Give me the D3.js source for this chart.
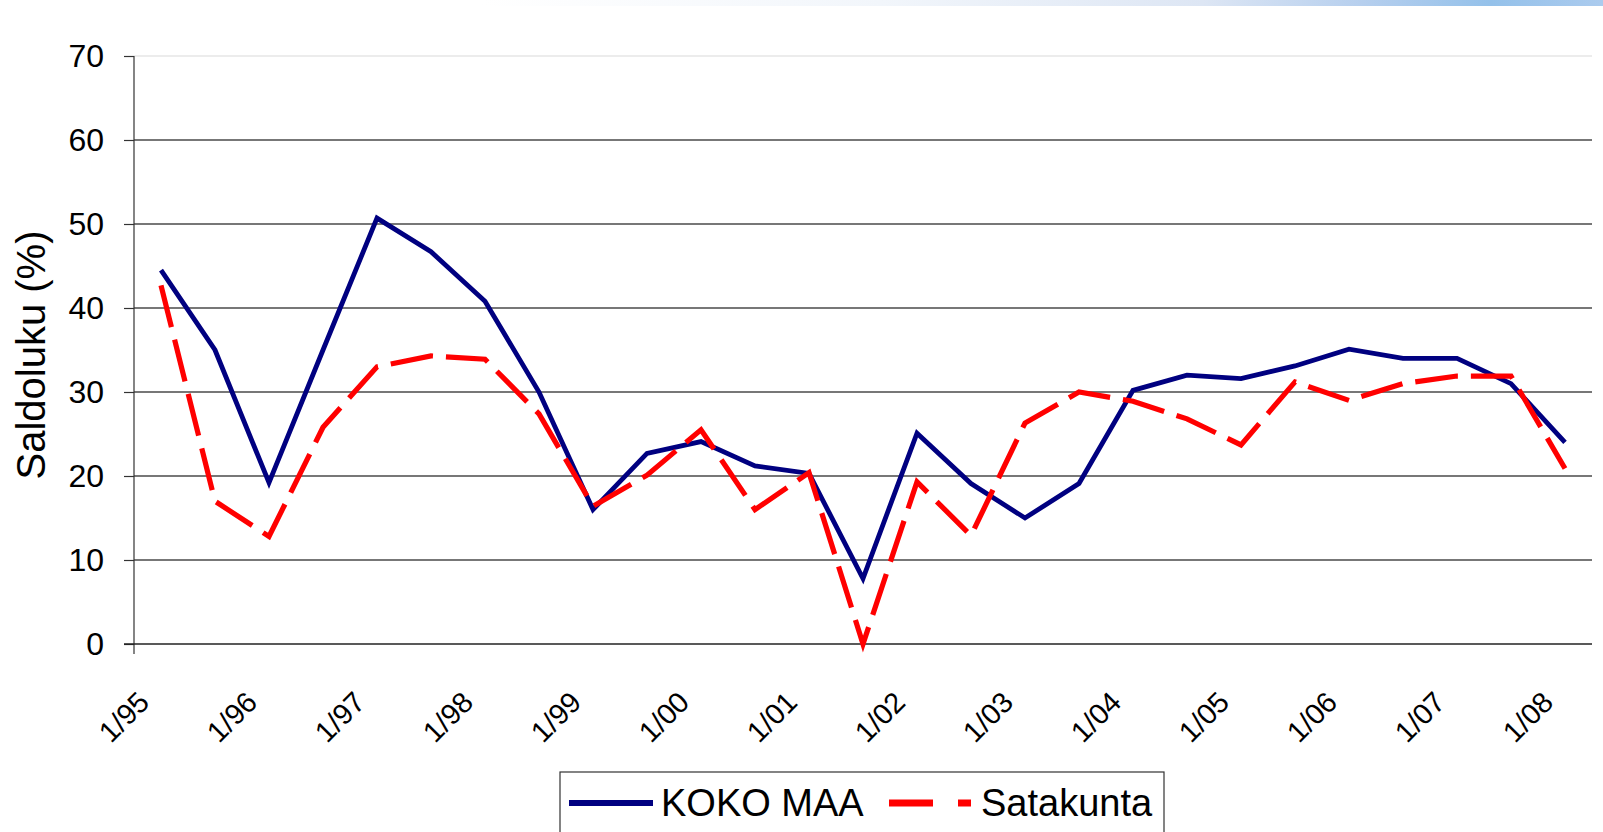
<!DOCTYPE html>
<html>
<head>
<meta charset="utf-8">
<script src="https://cdn.jsdelivr.net/npm/d3@7"></script>
<style>
  body { margin: 0; background: #fff; }
  text { font-family: "Liberation Sans", Arial, sans-serif; fill: #000; }
</style>
</head>
<body>
<script>

// half-year survey rounds, 1/95 ... 1/08
var categories = ["1/95","2/95","1/96","2/96","1/97","2/97","1/98","2/98","1/99","2/99",
  "1/00","2/00","1/01","2/01","1/02","2/02","1/03","2/03","1/04","2/04",
  "1/05","2/05","1/06","2/06","1/07","2/07","1/08"];

var kokoMaa = [44.5, 35.0, 19.2, 35.0, 50.7, 46.7, 40.8, 30.0, 16.0, 22.7,
  24.1, 21.2, 20.3, 7.8, 25.1, 19.1, 15.0, 19.1, 30.2, 32.0,
  31.6, 33.1, 35.1, 34.0, 34.0, 31.0, 24.0];

var satakunta = [42.7, 17.0, 12.8, 25.8, 33.0, 34.3, 33.9, 27.4, 16.4, 20.1,
  25.5, 16.0, 20.4, 0.0, 19.3, 12.9, 26.3, 30.0, 28.9, 26.8,
  23.7, 31.2, 29.0, 31.0, 31.9, 31.9, 20.9];

var yTicks = [0, 10, 20, 30, 40, 50, 60, 70];
var seriesNames = ["KOKO MAA", "Satakunta"];

function main() {

  var width = 1603;
  var height = 832;
  var left = 134, right = 1592, top = 56, bottom = 644;

  var svg = d3.select("body")
    .append("svg")
    .attr('width', width)
    .attr('height', height);

  // faint blue band at the very top of the slide
  var grad = svg.append("defs").append("linearGradient")
    .attr("id", "topband")
    .attr("x1", "0").attr("x2", "1").attr("y1", "0").attr("y2", "0");
  grad.append("stop").attr("offset", "0.3").attr("stop-color", "#ffffff");
  grad.append("stop").attr("offset", "0.55").attr("stop-color", "#f2f6fb");
  grad.append("stop").attr("offset", "0.75").attr("stop-color", "#dde6f4");
  grad.append("stop").attr("offset", "0.85").attr("stop-color", "#b6cfee");
  grad.append("stop").attr("offset", "0.93").attr("stop-color", "#94c1ea");
  grad.append("stop").attr("offset", "1").attr("stop-color", "#abcbee");
  svg.append("rect")
    .attr("x", 0).attr("y", 0)
    .attr("width", width).attr("height", 6)
    .attr("fill", "url(#topband)");

  var x = d3.scalePoint()
    .domain(categories)
    .range([left, right])
    .padding(0.5);

  var y = d3.scaleLinear()
    .domain([0, 70])
    .range([bottom, top]);

  // gridlines
  svg.append("g").selectAll("line")
    .data(yTicks.filter(function (d) { return d > 0; }))
    .enter().append("line")
    .attr("x1", left).attr("x2", right)
    .attr("y1", function (d) { return y(d); })
    .attr("y2", function (d) { return y(d); })
    .attr("stroke", function (d) { return d == 70 ? "#e6e6e6" : "#4a4a4a"; })
    .attr("stroke-width", 1.4);

  // y axis
  var yAxis = svg.append("g")
    .attr("transform", "translate(" + left + ",0)")
    .call(d3.axisLeft(y).tickValues(yTicks).tickSize(10).tickPadding(20));
  yAxis.select(".domain").remove();
  yAxis.selectAll(".tick line").attr("stroke", "#333").attr("stroke-width", 1.2);
  yAxis.selectAll("text")
    .attr("font-size", 32)
    .attr("fill", "#000")
    .style("font-family", '"Liberation Sans", Arial, sans-serif');

  svg.append("line")
    .attr("x1", left).attr("x2", left)
    .attr("y1", top).attr("y2", bottom + 10)
    .attr("stroke", "#333").attr("stroke-width", 1.2);

  // x axis line
  svg.append("line")
    .attr("x1", left - 10).attr("x2", right)
    .attr("y1", bottom).attr("y2", bottom)
    .attr("stroke", "#222").attr("stroke-width", 1.4);

  // category labels, only the 1/yy ones
  svg.append("g").selectAll("text")
    .data(categories.filter(function (d) { return d.charAt(0) == "1"; }))
    .enter().append("text")
    .attr("transform", function (d) {
      return "translate(" + (x(d) - 10) + "," + (bottom + 60) + ") rotate(-45)";
    })
    .attr("text-anchor", "end")
    .attr("font-size", 29)
    .text(function (d) { return d; });

  svg.append("text")
    .attr("transform", "translate(45,355) rotate(-90)")
    .attr("text-anchor", "middle")
    .attr("font-size", 40)
    .text("Saldoluku (%)");

  var line = d3.line()
    .x(function (d, i) { return x(categories[i]); })
    .y(function (d) { return y(d); });

  svg.append("path")
    .datum(kokoMaa)
    .attr("d", line)
    .attr("fill", "none")
    .attr("stroke", "#000080")
    .attr("stroke-width", 4.8);

  svg.append("path")
    .datum(satakunta)
    .attr("d", line)
    .attr("fill", "none")
    .attr("stroke", "#ff0000")
    .attr("stroke-width", 5.2)
    .attr("stroke-dasharray", "43,13");

  // legend
  var lg = svg.append("g");
  lg.append("rect")
    .attr("x", 560).attr("y", 772)
    .attr("width", 604).attr("height", 80)
    .attr("fill", "#fff")
    .attr("stroke", "#333").attr("stroke-width", 1.2);

  lg.append("line")
    .attr("x1", 569).attr("x2", 653)
    .attr("y1", 803).attr("y2", 803)
    .attr("stroke", "#000080").attr("stroke-width", 6);
  lg.append("text")
    .attr("x", 661).attr("y", 816)
    .attr("font-size", 38)
    .text(seriesNames[0]);

  lg.append("line")
    .attr("x1", 889).attr("x2", 971)
    .attr("y1", 803).attr("y2", 803)
    .attr("stroke", "#ff0000").attr("stroke-width", 7)
    .attr("stroke-dasharray", "44,25");
  lg.append("text")
    .attr("x", 981).attr("y", 816)
    .attr("font-size", 38)
    .text(seriesNames[1]);
}

main();
</script>
</body>
</html>
